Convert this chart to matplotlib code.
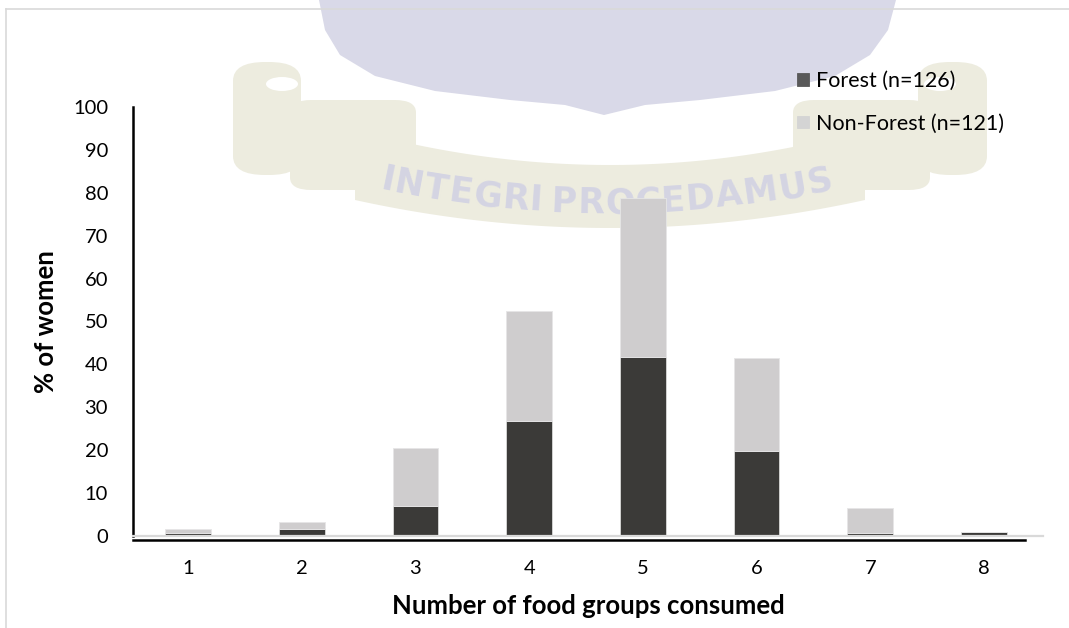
import numpy as np
import matplotlib
matplotlib.use('Agg')
from matplotlib import pyplot as plt
from matplotlib import transforms
from matplotlib.lines import Line2D
from matplotlib.patches import Polygon, FancyBboxPatch, Ellipse

# % of women by number of food groups consumed
groups = [1, 2, 3, 4, 5, 6, 7, 8]
forest = [0.8, 1.6, 7.0, 26.8, 41.7, 19.8, 0.8, 0.9]
non_forest = [0.9, 1.7, 13.4, 25.7, 37.1, 21.7, 5.8, 0.0]
series_labels = ['Forest (n=126)', 'Non-Forest (n=121)']
yticks = list(range(0, 101, 10))

DARK = '#3b3a38'
LIGHT = '#cfcdce'
W, H = 1069, 628

plt.rcParams['font.family'] = ['Lato', 'DejaVu Sans']

fig = plt.figure(figsize=(W / 100, H / 100), dpi=100)
renderer = fig.canvas.get_renderer()


def px(x, y):
    # pixel position (origin top-left) -> figure fraction
    return x / W, 1 - y / H


def add_fig(artist):
    artist.set_transform(fig.transFigure)
    artist.set_zorder(-1)
    fig.add_artist(artist)


# faint crest in the background
shield = [(319, 0), (896, 0), (888, 30), (870, 55), (835, 76), (775, 91),
          (700, 100), (645, 105), (604, 115), (565, 105), (510, 100),
          (435, 91), (375, 76), (340, 55), (325, 30)]
add_fig(Polygon([px(*p) for p in shield], closed=True, fc='#d9d9e8', ec='none'))

bx = np.linspace(355, 865, 60)
top = 130 + 35 * (1 - ((bx - 610) / 255) ** 2)
bot = 200 + 28 * (1 - ((bx - 610) / 255) ** 2)
band = [px(x, y) for x, y in zip(bx, top)] + [px(x, y) for x, y in zip(bx[::-1], bot[::-1])]
add_fig(Polygon(band, closed=True, fc='#edecdf', ec='none'))
for x0, x1 in [(233, 301), (918, 987)]:
    l, b = px(x0, 175)
    add_fig(FancyBboxPatch((l, b), (x1 - x0) / W, 113 / H,
                           boxstyle='round,pad=0,rounding_size=0.03',
                           fc='#edecdf', ec='none'))
for x0, x1 in [(290, 416), (793, 930)]:
    l, b = px(x0, 190)
    add_fig(FancyBboxPatch((l, b), (x1 - x0) / W, 90 / H,
                           boxstyle='round,pad=0,rounding_size=0.02',
                           fc='#edecdf', ec='none'))
for cx in (282, 940):
    add_fig(Ellipse(px(cx, 84), 32 / W, 14 / H, fc='white', ec='none'))

# motto laid out letter by letter along the banner's curve
motto = 'INTEGRI PROCEDAMUS'
mkw = dict(fontsize=25, fontweight='bold', color='#d4d4e3',
           family=['Liberation Sans Narrow', 'DejaVu Sans'])
widths = []
for ch in motto:
    t = fig.text(0, 0, ch if ch != ' ' else 'I', **mkw)
    widths.append(t.get_window_extent(renderer).width * (0.6 if ch == ' ' else 1.0))
    t.remove()
widths = np.array(widths)
span = 833 - 381
scale = span / widths.sum()
centers = 381 + (np.cumsum(widths) - widths / 2) * scale
for ch, x in zip(motto, centers):
    if ch == ' ':
        continue
    u = (x - 607) / 226
    y = 203 - 24 * u ** 2
    ang = np.degrees(np.arctan(48 * u / 226))
    t = fig.text(*px(x, y), ch, ha='center', va='center', rotation=ang,
                 rotation_mode='anchor', **mkw)
    t.set_zorder(-1)

# outer frame
add_fig(Line2D([6 / W, 1], [1 - 9 / H, 1 - 9 / H], color='#d9d9d9', lw=1.2))
add_fig(Line2D([6 / W, 6 / W], [0, 1 - 9 / H], color='#d9d9d9', lw=1.2))

ax = fig.add_axes([133 / W, 1 - 536 / H, 910 / W, 429 / H])
ax.patch.set_visible(False)

x = np.array(groups)
ax.bar(x, forest, width=0.4, color=DARK, edgecolor='#d9d9d9', lw=0.6,
       label=series_labels[0], zorder=2)
ax.bar(x, non_forest, width=0.4, bottom=forest, color=LIGHT,
       edgecolor='#e6e6e6', lw=0.6, label=series_labels[1], zorder=2)

ax.set_xlim(0.515, 8.52)
ax.set_ylim(0, 100)
ax.set_xticks(groups)
ax.set_yticks(yticks)
ax.tick_params(length=0, labelsize=14.5)
ax.tick_params(axis='y', pad=18)
ax.tick_params(axis='x', pad=17)

for s in ['top', 'right']:
    ax.spines[s].set_visible(False)
ax.spines['left'].set_linewidth(1.8)
ax.spines['left'].set_color('black')
ax.spines['bottom'].set_color('#d9d9d9')
ax.spines['bottom'].set_linewidth(1.6)

# black axis line sits just under the zero line
off = transforms.offset_copy(ax.transAxes, fig=fig, x=0, y=-4, units='dots')
ax.add_line(Line2D([0, 0.98], [0, 0], color='black', lw=1.8, transform=off,
                   clip_on=False))

ax.set_ylabel('% of women', fontsize=18.5, fontweight='bold')
ax.yaxis.set_label_coords(-75 / 910, 0.5)
ax.set_xlabel('Number of food groups consumed', fontsize=18.5, fontweight='bold')
ax.xaxis.set_label_coords(0.5, -58 / 429)

leg = ax.legend(loc='upper left', bbox_to_anchor=px(797, 71),
                bbox_transform=fig.transFigure, frameon=False, fontsize=15.5,
                handlelength=0.55, handleheight=0.55, handletextpad=0.35,
                labelspacing=1.05, borderpad=0, borderaxespad=0)
leg.legend_handles[0].set_color('#595959')
leg.legend_handles[1].set_color('#d4d4d4')

fig.savefig('out.png', dpi=100)
